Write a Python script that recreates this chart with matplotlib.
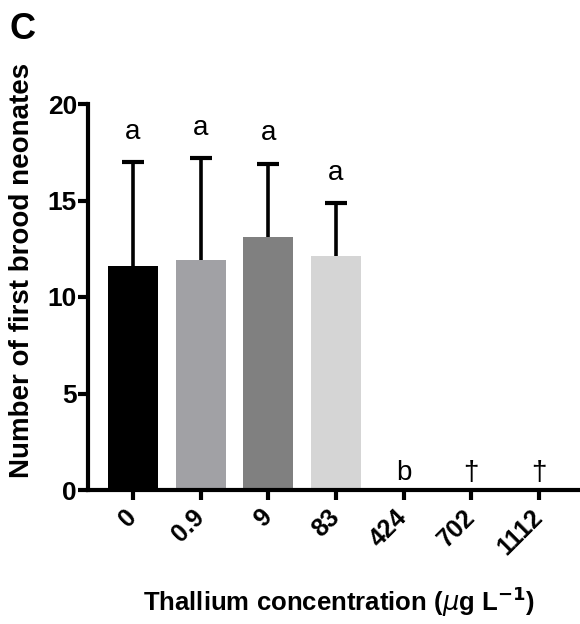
import numpy as np
import matplotlib.pyplot as plt

plt.rcParams['font.family'] = ['Liberation Sans', 'DejaVu Sans']

concentrations = ['0', '0.9', '9', '83', '424', '702', '1112']
means = [11.6, 11.9, 13.1, 12.1, 0, 0, 0]
sds = [5.4, 5.3, 3.8, 2.75, 0, 0, 0]
letters = ['a', 'a', 'a', 'a', 'b', '†', '†']
colors = ['#000000', '#a1a1a5', '#808080', '#d5d5d5', 'white', 'white', 'white']

fig = plt.figure(figsize=(5.8, 6.24), dpi=100)
ax = fig.add_axes([88 / 580, 1 - 490 / 624, 490 / 580, 386 / 624])

x = np.arange(len(concentrations))
ax.bar(x, means, width=0.74, color=colors)
eb = ax.errorbar(x[:4], means[:4], yerr=[np.zeros(4), sds[:4]], fmt='none',
                 ecolor='black', elinewidth=2.6, capsize=8, capthick=3)
# only the upper half of the error bar is shown
eb[1][0].set_visible(False)

for i in range(len(concentrations)):
    top = means[i] + sds[i]
    y = top + 0.9 if top > 0 else 0.2
    ax.text(x[i], y, letters[i], ha='center', va='bottom', fontsize=20)

ax.set_xlim(-0.666, 6.58)
ax.set_ylim(0, 20)
ax.set_yticks([0, 5, 10, 15, 20])
ax.set_xticks(x)
ax.set_xticklabels(concentrations, rotation=45, ha='right', va='center',
                   rotation_mode='anchor', fontsize=18, fontweight='bold')
for lab in ax.get_yticklabels():
    lab.set_fontsize(19)
    lab.set_fontweight('bold')

for side in ['top', 'right']:
    ax.spines[side].set_visible(False)
for side in ['left', 'bottom']:
    ax.spines[side].set_linewidth(3)
ax.tick_params(width=3, length=7, pad=1)
ax.tick_params(axis='x', pad=10)

ax.set_ylabel('Number of first brood neonates', fontsize=20, fontweight='bold')
ax.yaxis.set_label_coords(-0.108, 0.57)
ax.set_xlabel('Thallium concentration ($\\mathit{\\mu}$g L$^{\\mathbf{-1}}$)', fontsize=18.5,
              fontweight='bold')
ax.xaxis.set_label_coords(0.512, -0.245)

fig.text(0.017, 0.952, 'C', fontsize=26, fontweight='bold', ha='left', va='center')

fig.savefig('out.png', dpi=100)
